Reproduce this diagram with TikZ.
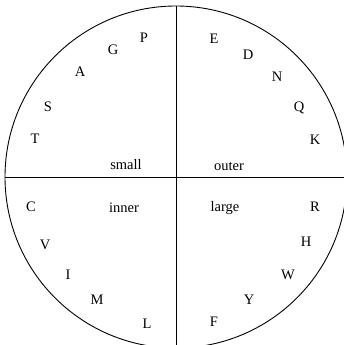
\documentclass[tikz,border=0pt]{standalone}
\usepackage{fontspec}
\setmainfont{Liberation Serif}
\usetikzlibrary{positioning}

\begin{document}
\begin{tikzpicture}[
  x=1pt, y=-1pt,
  every node/.style={font=\fontsize{14.5}{17}\selectfont},
  disc/.style={circle, draw=black, line width=0.9pt, minimum size=342pt, inner sep=0pt, outer sep=0pt},
  aa/.style={inner sep=0pt, anchor=center},
  tag/.style={inner sep=0pt, anchor=center}
]
\useasboundingbox (0,0) rectangle (344,345);

% Disc and quadrants
\node[disc] (wheel) at (176,177) {};
\draw[line width=0.9pt] (wheel.north) -- (wheel.south);
\draw[line width=0.9pt] (wheel.west) -- (wheel.east);

% Quadrant labels
\node[tag] (small) at (126,165) {small};
\node[tag] (outer) at (229,166) {outer};
\node[tag] (inner) at (124,208) {inner};
\node[tag] (large) at (225,208) {large};

% Upper left
\node[aa] (P) at (144,38) {P};
\node[aa] (G) at (113,50) {G};
\node[aa] (A) at (80,72) {A};
\node[aa] (S) at (48,107) {S};
\node[aa] (T) at (35,139) {T};

% Upper right
\node[aa] (E) at (214,39) {E};
\node[aa] (D) at (248,55) {D};
\node[aa] (N) at (277,77) {N};
\node[aa] (Q) at (299,108) {Q};
\node[aa] (K) at (315,140) {K};

% Lower left
\node[aa] (C) at (31,207) {C};
\node[aa] (V) at (45,245) {V};
\node[aa] (I) at (68,275) {I};
\node[aa] (M) at (97,300) {M};
\node[aa] (L) at (147,324) {L};

% Lower right
\node[aa] (R) at (315,207) {R};
\node[aa] (H) at (306,242) {H};
\node[aa] (W) at (288,275) {W};
\node[aa] (Y) at (249,300) {Y};
\node[aa] (F) at (214,322) {F};

\end{tikzpicture}
\end{document}
